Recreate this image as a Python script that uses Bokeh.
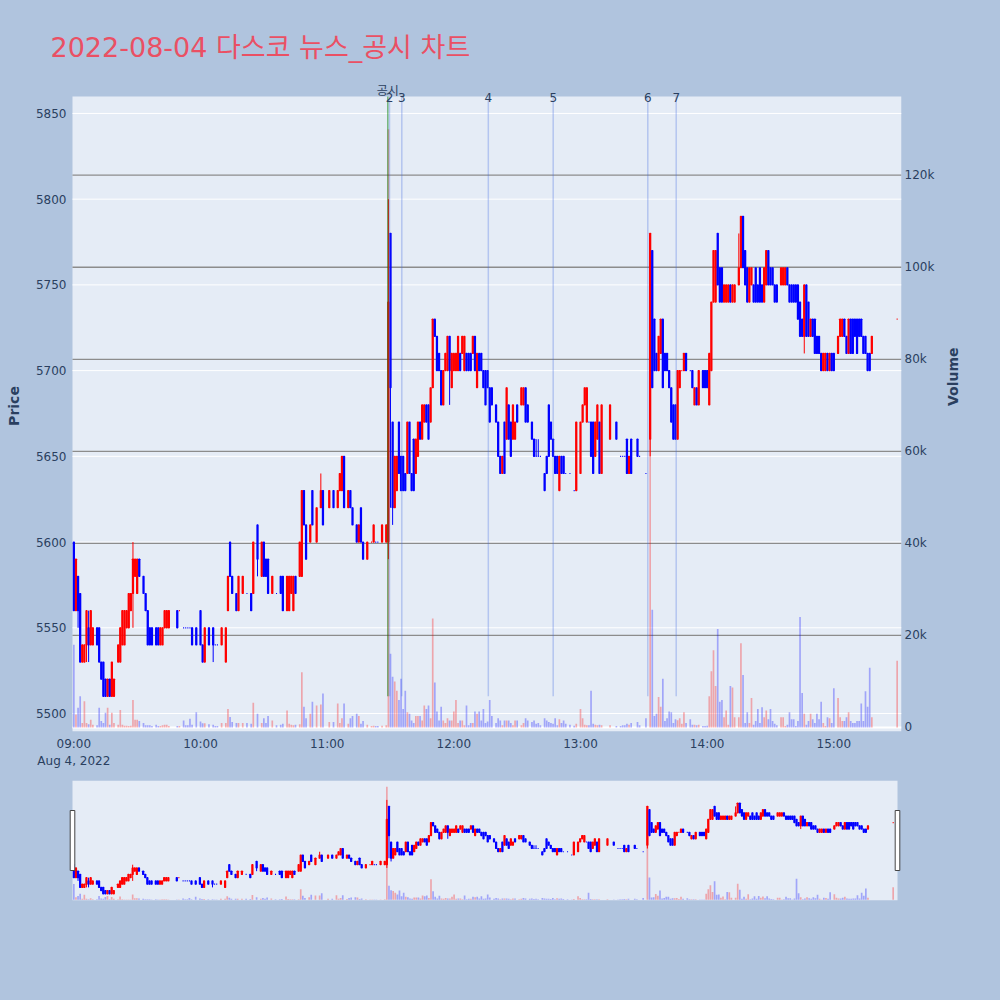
import math

from bokeh.embed import file_html
from bokeh.layouts import column
from bokeh.models import ColumnDataSource, FixedTicker, Label, LinearAxis, Range1d
from bokeh.plotting import figure
from bokeh.resources import INLINE

N = None

title_text = "2022-08-04 다스코 뉴스_공시 차트"
date_text = "Aug 4, 2022"
session_open = "09:00"

# one entry per minute from 09:00 to 15:30 (None = no trade in that minute)
opens = [
    5600, 5560, 5580, 5570, 5530, 5530, 5540, 5550, 5540, 5540,  # 09:00
    N, 5550, 5550, 5530, 5530, 5520, 5510, 5520, 5510, 5510,     # 09:10
    N, 5530, 5530, 5540, 5540, 5550, 5550, 5560, 5570, 5580,     # 09:20
    5570, 5590, N, 5580, 5570, 5560, 5550, 5550, N, 5550,        # 09:30
    5550, 5540, 5540, 5550, 5550, 5550, N, N, N, 5560,           # 09:40
    5560, N, 5550, 5550, 5550, 5550, 5550, N, 5550, N,           # 09:50
    5560, 5540, 5530, N, 5550, N, 5550, 5540, 5540, N,           # 10:00
    5540, N, 5530, 5560, 5600, 5580, N, 5570, 5560, N,           # 10:10
    5570, N, 5570, N, 5570, 5570, N, 5610, N, 5580,              # 10:20
    5600, 5590, 5590, N, 5570, N, 5570, N, 5580, 5580,           # 10:30
    N, 5560, 5560, 5570, 5560, 5580, N, 5580, 5580, 5630,        # 10:40
    5610, N, 5600, 5630, N, 5600, N, 5620, 5630, N,              # 10:50
    N, 5620, N, 5630, N, 5620, 5630, 5630, 5650, N,              # 11:00
    5620, 5630, 5620, N, 5610, 5600, 5620, 5600, N, 5590,        # 11:10
    N, 5600, 5600, 5600, 5600, N, 5600, N, 5600, 5600,           # 11:20
    5780, 5670, 5620, 5630, 5670, 5650, 5650, 5640, 5640, 5670,  # 11:30
    5640, 5660, 5640, 5650, 5670, 5660, 5670, 5680, 5680, 5670,  # 11:40
    5690, 5730, 5720, 5710, 5700, 5680, 5700, 5700, 5720, 5690,  # 11:50
    5700, 5700, 5700, 5710, 5710, 5700, 5710, 5710, 5710, 5710,  # 12:00
    5720, 5690, 5710, 5710, 5700, 5700, 5700, 5690, 5690, N,     # 12:10
    5680, 5670, 5650, 5640, 5670, 5660, 5680, 5670, 5660, 5660,  # 12:20
    5680, N, 5680, 5680, 5690, 5680, N, 5670, 5660, 5650,        # 12:30
    5650, 5650, N, 5640, 5650, 5680, 5670, 5660, 5650, 5650,     # 12:40
    5630, 5650, 5650, 5640, N, 5640, N, 5630, 5630, N,           # 12:50
    5640, 5670, 5680, 5670, 5670, 5670, 5670, 5650, 5660, 5670,  # 13:00
    5640, N, N, N, 5660, N, N, 5670, N, 5650,                    # 13:10
    5650, 5650, 5660, 5640, 5660, N, N, 5660, 5650, N,           # 13:20
    N, 5640, N, 5660, 5770, 5730, 5710, 5700, 5710, 5730,        # 13:30
    5710, 5710, 5700, 5690, 5680, 5680, 5660, 5690, 5700, 5700,  # 13:40
    5710, N, 5700, 5700, 5680, 5690, 5680, N, 5700, 5700,        # 13:50
    5700, 5680, 5700, 5740, 5740, 5780, 5760, 5760, 5740, 5740,  # 14:00
    5740, 5750, 5740, 5740, N, 5750, 5760, 5790, 5770, 5760,     # 14:10
    5740, 5750, 5750, 5760, 5750, 5760, 5750, 5740, 5750, 5770,  # 14:20
    5760, 5760, 5750, 5750, N, 5750, 5750, 5750, 5760, 5750,     # 14:30
    5750, 5750, 5750, 5750, 5740, 5730, 5720, 5750, 5740, 5720,  # 14:40
    5730, 5730, 5720, 5720, 5710, 5700, 5700, 5710, 5700, 5710,  # 14:50
    5710, N, 5710, 5720, 5720, 5730, 5720, 5710, 5730, 5730,     # 15:00
    5730, 5730, 5730, 5730, 5720, 5720, 5710, 5710, 5710, N,     # 15:10
    N, N, N, N, N, N, N, N, N, N,                                # 15:20
    5730,                                                        # 15:30
]

closes = [
    5560, 5590, 5560, 5530, 5540, 5540, 5560, 5540, 5560, 5550,  # 09:00
    N, 5540, 5530, 5520, 5510, 5510, 5520, 5510, 5530, 5520,     # 09:10
    N, 5540, 5550, 5560, 5560, 5560, 5570, 5570, 5590, 5590,     # 09:20
    5590, 5580, N, 5570, 5560, 5540, 5540, 5540, N, 5540,        # 09:30
    5540, 5550, 5550, 5560, 5560, 5560, N, N, N, 5550,           # 09:40
    5560, N, 5550, 5550, 5550, 5550, 5540, N, 5540, N,           # 09:50
    5540, 5530, 5550, N, 5540, N, 5540, 5540, 5540, N,           # 10:00
    5550, N, 5550, 5580, 5580, 5570, N, 5560, 5580, N,           # 10:10
    5580, N, 5570, N, 5560, 5600, N, 5590, N, 5600,              # 10:20
    5580, 5580, 5570, N, 5580, N, 5570, N, 5570, 5560,           # 10:30
    N, 5580, 5580, 5580, 5580, 5570, N, 5600, 5630, 5610,        # 10:40
    5590, N, 5610, 5610, N, 5620, N, 5630, 5610, N,              # 10:50
    N, 5630, N, 5620, N, 5630, 5640, 5650, 5620, N,              # 11:00
    5630, 5620, 5610, N, 5600, 5610, 5600, 5590, N, 5600,        # 11:10
    N, 5600, 5610, 5600, 5600, N, 5610, N, 5610, 5740,           # 11:20
    5690, 5620, 5650, 5650, 5640, 5630, 5630, 5630, 5670, 5640,  # 11:30
    5630, 5630, 5660, 5670, 5660, 5680, 5680, 5670, 5660, 5690,  # 11:40
    5730, 5720, 5700, 5700, 5680, 5700, 5710, 5720, 5700, 5710,  # 11:50
    5710, 5710, 5720, 5700, 5720, 5720, 5700, 5700, 5700, 5720,  # 12:00
    5700, 5710, 5700, 5700, 5690, 5680, 5690, 5670, 5680, N,     # 12:10
    5670, 5650, 5640, 5650, 5640, 5690, 5660, 5650, 5680, 5670,  # 12:20
    5670, N, 5690, 5690, 5670, 5670, N, 5660, 5650, 5650,        # 12:30
    5650, 5650, N, 5630, 5640, 5650, 5660, 5650, 5640, 5640,     # 12:40
    5650, 5640, 5640, 5640, N, 5640, N, 5630, 5670, N,           # 12:50
    5670, 5680, 5690, 5690, 5670, 5650, 5640, 5670, 5680, 5640,  # 13:00
    5680, N, N, N, 5680, N, N, 5660, N, 5650,                    # 13:10
    5650, 5650, 5640, 5650, 5640, N, N, 5650, 5650, N,           # 13:20
    N, 5640, N, 5780, 5690, 5700, 5700, 5720, 5730, 5690,        # 13:30
    5700, 5700, 5690, 5670, 5660, 5660, 5700, 5700, 5700, 5710,  # 13:40
    5700, N, 5700, 5690, 5690, 5680, 5700, N, 5690, 5690,        # 13:50
    5690, 5710, 5740, 5770, 5770, 5750, 5740, 5740, 5750, 5750,  # 14:00
    5750, 5740, 5750, 5750, N, 5760, 5790, 5760, 5750, 5740,     # 14:10
    5760, 5760, 5740, 5740, 5740, 5740, 5740, 5760, 5770, 5750,  # 14:20
    5750, 5750, 5740, 5740, N, 5760, 5760, 5760, 5750, 5740,     # 14:30
    5740, 5740, 5740, 5730, 5720, 5720, 5750, 5720, 5720, 5730,  # 14:40
    5720, 5710, 5710, 5710, 5700, 5710, 5710, 5700, 5710, 5700,  # 14:50
    5700, N, 5720, 5730, 5730, 5720, 5710, 5730, 5710, 5710,     # 15:00
    5720, 5710, 5720, 5720, 5710, 5710, 5700, 5700, 5720, N,     # 15:10
    N, N, N, N, N, N, N, N, N, N,                                # 15:20
    5730,                                                        # 15:30
]

volumes = [
    18000, 2800, 4300, 6800, 1000, 5700, 1000, 700, 1700, 600,       # 09:00
    N, 500, 4300, 1400, 1000, 3200, 4300, 600, 3200, 1000,           # 09:10
    N, 600, 3800, 600, 400, 400, 300, 400, 6000, 1700,               # 09:20
    1700, 1400, N, 1000, 500, 500, 500, 300, N, 600,                 # 09:30
    300, 300, 500, 600, 600, 300, N, N, N, 300,                      # 09:40
    300, N, 1500, 500, 500, 1900, 600, N, 3300, N,                   # 09:50
    1300, 900, 900, N, 700, N, 600, 300, 300, N,                     # 10:00
    1000, N, 1000, 4000, 2300, 1200, N, 1000, 1000, N,               # 10:10
    1000, N, 1000, N, 800, 5400, N, 3000, N, 1000,                   # 10:20
    2000, 1000, 2500, N, 1500, N, 500, N, 600, 800,                  # 10:30
    N, 3700, 800, 600, 500, 600, N, 700, 12000, 4500,                # 10:40
    2000, N, 3000, 5600, N, 4800, N, 5000, 7400, N,                  # 10:50
    N, 1200, N, 1200, N, 5200, 1000, 2000, 5200, N,                  # 11:00
    800, 2000, 2500, N, 3000, 2500, 800, 1400, N, 600,               # 11:10
    N, 300, 400, 300, 300, N, 400, N, 500, 130000,                   # 11:20
    16000, 11000, 10000, 8000, 6000, 10600, 4000, 8000, 3300, 3000,  # 11:30
    1500, 1000, 2500, 2500, 2500, 1500, 4800, 4000, 4800, 2000,      # 11:40
    23700, 9800, 3500, 1500, 4500, 1500, 1000, 2000, 1500, 1500,     # 11:50
    3500, 6000, 1000, 1500, 1500, 500, 4800, 500, 1000, 1000,        # 12:00
    3500, 3000, 3500, 1500, 4000, 1000, 1300, 6000, 2500, N,         # 12:10
    1000, 2000, 1500, 500, 1500, 1500, 1500, 1000, 500, 1500,        # 12:20
    1500, N, 500, 1000, 2000, 1500, N, 1200, 1500, 800,              # 12:30
    1000, 500, N, 2000, 1500, 1200, 1000, 800, 2000, 500,            # 12:40
    1800, 1000, 1500, 800, N, 600, N, 400, 800, N,                   # 12:50
    4000, 2000, 600, 500, 500, 8000, 800, 600, 500, 600,             # 13:00
    500, N, N, N, 500, N, N, 300, N, 300,                            # 13:10
    500, 500, 800, 600, 1000, N, N, 1200, 500, N,                    # 13:20
    N, 2000, N, 80000, 25600, 2500, 3000, 6600, 4500, 10600,         # 13:30
    1400, 2000, 3500, 3300, 1000, 1800, 1600, 2000, 800, 3300,       # 13:40
    1000, N, 1800, 600, 600, 500, 600, N, 300, 300,                  # 13:50
    400, 6800, 12200, 16800, 9000, 21400, 5600, 6000, 2200, 3700,    # 14:00
    600, 9000, 8700, 2200, N, 2200, 18300, 11400, 1000, 3300,        # 14:10
    1000, 6400, 600, 1400, 4000, 1000, 4400, 2200, 3700, 1800,       # 14:20
    4000, 1400, 800, 500, N, 2200, 2200, 300, 600, 3300,             # 14:30
    1800, 1800, 300, 1400, 24000, 7500, 3000, 600, 1400, 3000,       # 14:40
    1800, 1000, 3000, 1800, 5600, 1000, 300, 2200, 2000, 1000,       # 14:50
    8500, N, 6400, 2200, 1400, 1400, 2200, 3300, 1400, 1000,         # 15:00
    1000, 1400, 1400, 5200, 1400, 7900, 4500, 13000, 2200, N,        # 15:10
    N, N, N, N, N, N, N, N, N, N,                                    # 15:20
    14500,                                                           # 15:30
]

# highs / lows that reach beyond the candle body
upper_wicks = {"09:07": 5560, "09:28": 5600, "10:57": 5640, "11:29": 5800,
               "12:39": 5660, "12:40": 5660, "14:15": 5780}
lower_wicks = {"09:02": 5550, "09:06": 5530, "09:07": 5530, "09:28": 5550,
               "10:06": 5530, "10:27": 5580, "11:29": 5590, "11:30": 5620,
               "11:31": 5610, "11:58": 5680, "13:33": 5650, "14:46": 5710}

# news / disclosure markers
notice_times = ["11:28:43", "11:29:31", "11:35:21", "12:16:20",
                "12:47:04", "13:31:53", "13:45:20"]
notice_labels = ["공시", "2", "3", "4", "5", "6", "7"]

time_ticks = ["09:00", "10:00", "11:00", "12:00", "13:00", "14:00", "15:00"]
price_ticks = [5500, 5550, 5600, 5650, 5700, 5750, 5800, 5850]
volume_ticks = [0, 20000, 40000, 60000, 80000, 100000, 120000]
volume_tick_labels = ["0", "20k", "40k", "60k", "80k", "100k", "120k"]

# ---------------------------------------------------------------- styling
PAPER_BG = "#B0C4DE"
PLOT_BG = "#E5ECF6"
INK = "#2a3f5f"
UP = "#FF0000"
DOWN = "#0000FF"
FONT = "DejaVu Sans"
FONT_KR = "DejaVu Sans, Noto Sans CJK KR"

PAGE_W = 1000
MAIN_H = 770           # title + price / volume panel (page rows 0..770)
SLIDER_H = 230         # range slider (page rows 770..1000)
EDGE_L, EDGE_R = 68, 901          # shared frame edges of both panels
PLOT_L, PLOT_R = 72, 901          # page columns of the plotting area
PLOT_T, PLOT_B = 96, 732          # page rows of the plotting area
FRAME_T = 80                      # frame starts a little above the plot area
SLIDER_L, SLIDER_R, SLIDER_T, SLIDER_B = 72, 897, 780, 900

X_LO, X_HI = -0.64, 392.06        # minutes after the open
P_LO, P_HI = 5489.5, 5859.9       # price axis
V_LO, V_HI = -870, 137100         # volume axis


def minutes_after_open(stamp):
    parts = [int(v) for v in stamp.split(":")]
    base = [int(v) for v in session_open.split(":")]
    sec = parts[2] if len(parts) > 2 else 0
    return (parts[0] - base[0]) * 60 + (parts[1] - base[1]) + sec / 60.0


px_per_min = (PLOT_R - PLOT_L) / (X_HI - X_LO)
px_per_won = (PLOT_B - PLOT_T) / (P_HI - P_LO)
px_per_vol = (PLOT_B - PLOT_T) / (V_HI - V_LO)
X_FRAME_LO = X_LO - (PLOT_L - EDGE_L) / px_per_min
P_TOP = P_HI + (PLOT_T - FRAME_T) / px_per_won
V_TOP = V_HI + (PLOT_T - FRAME_T) / px_per_vol


def page_y(py):
    return P_HI - (py - PLOT_T) / px_per_won


# ---------------------------------------------------------------- candles
open_h, open_m = [int(v) for v in session_open.split(":")]
cols = dict(x=[], top=[], bottom=[], high=[], low=[], vol=[], color=[])
prev_close, prev_up = None, False
for i, (o, c, v) in enumerate(zip(opens, closes, volumes)):
    if o is None:
        continue
    total = open_h * 60 + open_m + i
    stamp = f"{total // 60:02d}:{total % 60:02d}"
    if c > o:
        up = True
    elif c < o:
        up = False
    elif prev_close is not None and c != prev_close:
        up = c > prev_close
    else:
        up = prev_up
    prev_close, prev_up = c, up
    cols["x"].append(i)
    cols["top"].append(max(o, c))
    cols["bottom"].append(min(o, c))
    cols["high"].append(upper_wicks.get(stamp, max(o, c)))
    cols["low"].append(lower_wicks.get(stamp, min(o, c)))
    cols["vol"].append(v)
    cols["color"].append(UP if up else DOWN)

day_low = min(cols["low"])


def draw_market(fig, src):
    fig.segment(x0="x", y0="low", x1="x", y1="high", line_color="color",
                line_width=1, source=src)
    fig.vbar(x="x", width=0.5, top="top", bottom="bottom", fill_color="color",
             line_color="color", line_width=1.2, source=src)
    fig.vbar(x="x", width=0.8, top="vol", bottom=0, y_range_name="vol",
             fill_color="color", fill_alpha=0.3, line_color=None, source=src)


def style_axis(ax, standoff):
    ax.axis_line_color = None
    ax.major_tick_line_color = None
    ax.minor_tick_line_color = None
    ax.major_tick_in = 0
    ax.major_tick_out = 0
    ax.minor_tick_in = 0
    ax.minor_tick_out = 0
    ax.major_label_standoff = standoff
    ax.major_label_text_font = FONT
    ax.major_label_text_font_size = "12px"
    ax.major_label_text_color = INK
    ax.axis_label_text_font = FONT
    ax.axis_label_text_font_size = "14px"
    ax.axis_label_text_font_style = "bold"
    ax.axis_label_text_color = INK


# ---------------------------------------------------------------- main chart
p = figure(width=PAGE_W, height=MAIN_H, title=title_text,
           x_range=Range1d(X_FRAME_LO, X_HI), y_range=Range1d(P_LO, P_TOP),
           x_axis_type=None, y_axis_type=None,
           output_backend="svg", toolbar_location=None,
           min_border_left=EDGE_L, min_border_right=PAGE_W - EDGE_R,
           min_border_top=FRAME_T, min_border_bottom=MAIN_H - PLOT_B,
           background_fill_color=PAPER_BG, border_fill_color=PAPER_BG,
           outline_line_color=None)
p.extra_y_ranges = {"vol": Range1d(V_LO, V_TOP)}

p.title.align = "left"
p.title.offset = 50 - EDGE_L
p.title.standoff = 35
p.title.text_font = FONT_KR
p.title.text_font_size = "27px"
p.title.text_font_style = "normal"
p.title.text_color = "#EA5064"

plot_bg = p.quad(left=X_LO, right=X_HI, bottom=P_LO, top=P_HI,
                 fill_color=PLOT_BG, line_color=None)
plot_bg.level = "image"

price_axis = LinearAxis(ticker=FixedTicker(ticks=price_ticks), bounds=(P_LO, P_HI),
                        axis_label="Price", axis_label_standoff=11)
style_axis(price_axis, 2)
p.add_layout(price_axis, "left")

vol_axis = LinearAxis(y_range_name="vol", ticker=FixedTicker(ticks=volume_ticks),
                      bounds=(V_LO, V_HI), axis_label="Volume", axis_label_standoff=16,
                      axis_label_orientation=math.pi / 2,
                      major_label_overrides=dict(zip(volume_ticks, volume_tick_labels)))
style_axis(vol_axis, 3)
p.add_layout(vol_axis, "right")

tick_minutes = [minutes_after_open(t) for t in time_ticks]
time_axis = LinearAxis(ticker=FixedTicker(ticks=tick_minutes),
                       major_label_overrides=dict(zip(tick_minutes, time_ticks)))
style_axis(time_axis, 5)
p.add_layout(time_axis, "below")

date_tick = [minutes_after_open(time_ticks[0])]
date_axis = LinearAxis(ticker=FixedTicker(ticks=date_tick),
                       major_label_overrides={date_tick[0]: date_text})
style_axis(date_axis, 0)
p.add_layout(date_axis, "below")

# grid lines, kept inside the plotting area
price_grid = p.segment(x0=X_LO, y0=price_ticks, x1=X_HI, y1=price_ticks,
                       line_color="white", line_width=1)
vol_grid = p.segment(x0=X_LO, y0=volume_ticks[1:], x1=X_HI, y1=volume_ticks[1:],
                     y_range_name="vol", line_color="#8c8c8c", line_width=1.3)
vol_zero = p.segment(x0=X_LO, y0=0, x1=X_HI, y1=0, y_range_name="vol",
                     line_color="white", line_width=2)
for r in (price_grid, vol_grid, vol_zero):
    r.level = "underlay"

source = ColumnDataSource(cols)
draw_market(p, source)

# disclosure markers
nx = [minutes_after_open(t) for t in notice_times]
marker_colors = ["green"] + ["royalblue"] * (len(nx) - 1)
marker_alpha = [0.5] + [0.3] * (len(nx) - 1)
p.segment(x0=nx, y0=[day_low] * len(nx), x1=nx, y1=[P_HI] * len(nx),
          line_color=marker_colors, line_alpha=marker_alpha, line_width=1.5)
for k, (mx, text) in enumerate(zip(nx, notice_labels)):
    ly = page_y(90.5) if k == 0 else page_y(96.7)
    p.add_layout(Label(x=mx, y=ly, text=text, text_align="center",
                       text_baseline="middle", text_font=FONT_KR,
                       text_font_size="12px", text_color=INK))

# ---------------------------------------------------------------- range slider
s_ppm = (SLIDER_R - SLIDER_L) / (X_HI - X_LO)
s_lo = X_LO - (SLIDER_L - EDGE_L) / s_ppm
s_hi = X_HI + (EDGE_R - SLIDER_R) / s_ppm

s = figure(width=PAGE_W, height=SLIDER_H, title=None,
           x_range=Range1d(s_lo, s_hi), y_range=Range1d(P_LO, P_HI),
           x_axis_type=None, y_axis_type=None,
           output_backend="svg", toolbar_location=None,
           min_border_left=EDGE_L, min_border_right=PAGE_W - EDGE_R,
           min_border_top=SLIDER_T - MAIN_H,
           min_border_bottom=MAIN_H + SLIDER_H - SLIDER_B,
           background_fill_color=PAPER_BG, border_fill_color=PAPER_BG,
           outline_line_color=None)
s.extra_y_ranges = {"vol": Range1d(V_LO, V_HI)}
s.quad(left=X_LO, right=X_HI, bottom=P_LO, top=P_HI,
       fill_color=PLOT_BG, line_color=None)
draw_market(s, ColumnDataSource(cols))

half_w = 2.3 / s_ppm
grip_lo = P_LO + 0.25 * (P_HI - P_LO)
grip_hi = P_LO + 0.75 * (P_HI - P_LO)
s.quad(left=[X_LO - half_w, X_HI - half_w], right=[X_LO + half_w, X_HI + half_w],
       bottom=grip_lo, top=grip_hi, fill_color="white", line_color="#444444",
       line_width=1)

layout = column(p, s, styles={"background-color": PAPER_BG})
open("out.html", "w").write(file_html(layout, INLINE))
